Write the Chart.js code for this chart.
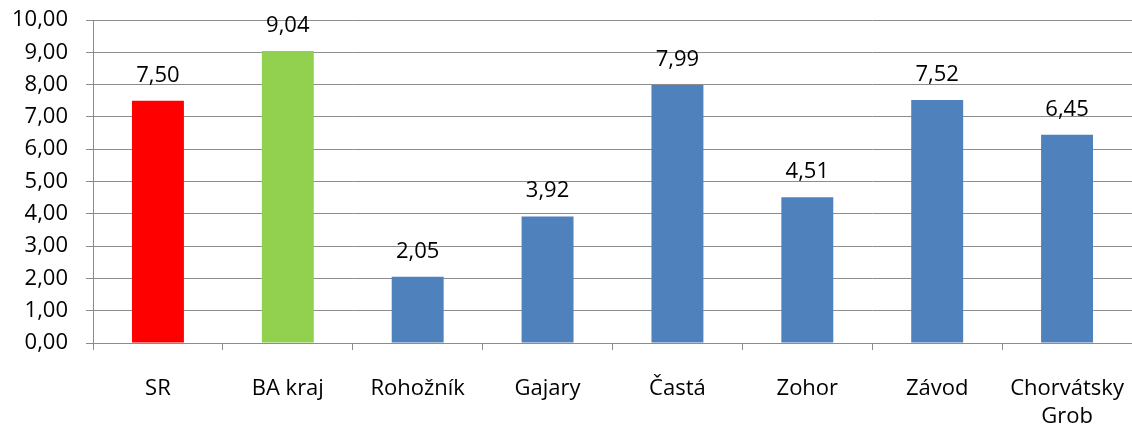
<!DOCTYPE html>
<html>
<head>
<meta charset="utf-8">
<script src="https://cdn.jsdelivr.net/npm/chart.js@4/dist/chart.umd.min.js"></script>
<style>
  html, body { margin: 0; padding: 0; background: #fff; }
  #wrap { width: 1132px; height: 428px; position: relative; }
</style>
</head>
<body>
<div id="wrap"><canvas id="chart"></canvas></div>
<script>
var categories = ["SR", "BA kraj", "Rohožník", "Gajary", "Častá", "Zohor", "Závod", ["Chorvátsky", "Grob"]];
var values = [7.50, 9.04, 2.05, 3.92, 7.99, 4.51, 7.52, 6.45];
var barColors = ["#ff0000", "#92d050", "#4f81bd", "#4f81bd", "#4f81bd", "#4f81bd", "#4f81bd", "#4f81bd"];
var yTicks = [0, 1, 2, 3, 4, 5, 6, 7, 8, 9, 10];

var fmt = (v) => v.toFixed(2).replace(".", ",");

// value labels above each bar
var valueLabels = {
  id: "valueLabels",
  afterDatasetsDraw: (chart) => {
    var ctx = chart.ctx;
    var meta = chart.getDatasetMeta(0);
    ctx.save();
    ctx.font = "22px 'Open Sans', sans-serif";
    ctx.fillStyle = "#000";
    ctx.textAlign = "center";
    ctx.textBaseline = "alphabetic";
    for(var i = 0;i < meta.data.length;i++) {
      var bar = meta.data[i];
      ctx.fillText(fmt(values[i]), bar.x, bar.y - 19);
    }
    ctx.restore();
  }
};

Chart.defaults.font.family = "'Open Sans', sans-serif";
Chart.defaults.font.size = 22;
Chart.defaults.color = "#000";

var chart = new Chart(document.getElementById("chart"), {
  type: "bar",
  data: {
    labels: categories,
    datasets: [{
      data: values,
      backgroundColor: barColors,
      categoryPercentage: 1,
      barPercentage: 0.4
    }]
  },
  options: {
    responsive: true,
    maintainAspectRatio: false,
    animation: false,
    layout: {padding: {left: 0, right: -1, top: 20, bottom: 0}},
    plugins: {legend: {display: false}, tooltip: {enabled: false}},
    scales: {
      x: {
        afterFit: (axis) => { axis.height = 85; axis.paddingLeft = 0; axis.paddingRight = 0; },
        grid: {offset: true, drawOnChartArea: false, color: "#8c8c8c", tickLength: 7, lineWidth: 1},
        border: {color: "#8c8c8c", width: 1},
        ticks: {padding: 24, maxRotation: 0, autoSkip: false, font: {lineHeight: 1.3}}
      },
      y: {
        min: 0,
        max: 10,
        afterBuildTicks: (axis) => { axis.ticks = yTicks.map((v) => ({value: v})); },
        afterFit: (axis) => { axis.width = 93; axis.paddingTop = 0; axis.paddingBottom = 0; },
        grid: {color: "#8c8c8c", tickLength: 7, lineWidth: 1},
        border: {color: "#8c8c8c", width: 1},
        ticks: {padding: 18, callback: (v) => fmt(v)}
      }
    }
  },
  plugins: [valueLabels]
});
</script>
</body>
</html>
